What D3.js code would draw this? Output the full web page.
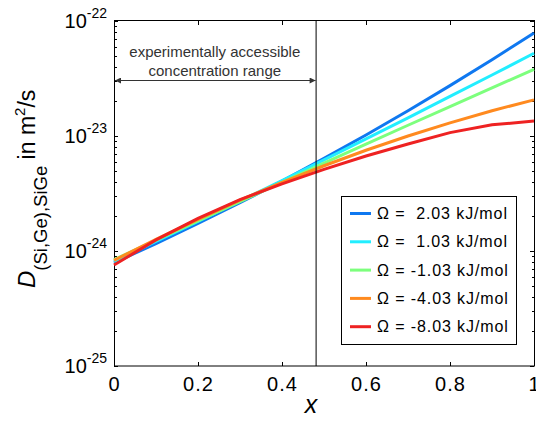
<!DOCTYPE html>
<meta charset="utf-8">
<style>
body { margin: 0; background: #fff; }
svg { font-family: "Liberation Sans", Arial, sans-serif; }
.axis path, .axis line { stroke: #000; shape-rendering: crispEdges; }
</style>
<svg width="536" height="421"></svg>
<script src="https://d3js.org/d3.v7.min.js"></script>
<script>
// concentration x of Ge
var xValues = [0, 0.1, 0.2, 0.3, 0.4, 0.5, 0.6, 0.7, 0.8, 0.9, 1.0]

// D(Si,Ge),SiGe in m^2/s, one list per Omega
var dOmega203 = [7.9e-25, 1.16e-24, 1.74e-24, 2.63e-24, 4.06e-24, 6.38e-24, 1.02e-23, 1.66e-23, 2.74e-23, 4.6e-23, 7.87e-23]
var dOmega103 = [8.1e-25, 1.21e-24, 1.81e-24, 2.72e-24, 4.1e-24, 6.21e-24, 9.44e-24, 1.44e-23, 2.21e-23, 3.39e-23, 5.24e-23]
var dOmegaM103 = [8.4e-25, 1.24e-24, 1.83e-24, 2.69e-24, 3.95e-24, 5.8e-24, 8.49e-24, 1.24e-23, 1.8e-23, 2.62e-23, 3.8e-23]
var dOmegaM403 = [8.3e-25, 1.26e-24, 1.88e-24, 2.77e-24, 3.95e-24, 5.51e-24, 7.52e-24, 1.0e-23, 1.3e-23, 1.66e-23, 2.06e-23]
var dOmegaM803 = [7.55e-25, 1.25e-24, 1.92e-24, 2.8e-24, 3.83e-24, 5.12e-24, 6.7e-24, 8.51e-24, 1.07e-23, 1.25e-23, 1.35e-23]

var seriesLabels = ["\u03A9 =  2.03 kJ/mol", "\u03A9 =  1.03 kJ/mol", "\u03A9 = -1.03 kJ/mol", "\u03A9 = -4.03 kJ/mol", "\u03A9 = -8.03 kJ/mol"]
var seriesColors = ["#0f78f0", "#22eeff", "#7dff7d", "#ff8a1f", "#ee2222"]

var xTicks = [0, 0.2, 0.4, 0.6, 0.8, 1]
var xTickLabels = ["0", "0.2", "0.4", "0.6", "0.8", "1"]
var yDecades = [-25, -24, -23, -22]
var accessibleLimit = 0.48

var series = [dOmega203, dOmega103, dOmegaM103, dOmegaM403, dOmegaM803]

var svg = d3.select('svg')

// plot box ("top" is taken by window.top)
var pLeft = 114, pRight = 534, pTop = 21, pBottom = 366

var x = d3.scaleLinear().domain([0, 1]).range([pLeft, pRight])
var y = d3.scaleLog().domain([1e-25, 1e-22]).range([pBottom, pTop])

// minor ticks for log axis
var yMinor = []
for (var d = -25; d < -22; d++) {
  for (var m = 2; m <= 9; m++) yMinor.push(m * Math.pow(10, d))
}
var yMajor = yDecades.map(function (e) { return Math.pow(10, e) })

// frame
svg.append('rect')
  .attr('x', pLeft + 0.5).attr('y', pTop - 0.5)
  .attr('width', pRight - pLeft).attr('height', pBottom - pTop + 0.5)
  .attr('fill', 'none').attr('stroke', '#000')

// ticks, all pointing inwards
function tickAxis(axis, tr, values, size) {
  svg.append('g').attr('class', 'axis').attr('transform', tr)
    .call(axis.tickValues(values).tickSizeInner(size).tickSizeOuter(0).tickFormat(''))
    .select('.domain').remove()
}
tickAxis(d3.axisBottom(x), 'translate(0,' + pBottom + ')', xTicks.slice(1, -1), -4)
tickAxis(d3.axisTop(x), 'translate(0,' + pTop + ')', xTicks.slice(1, -1), -4)
tickAxis(d3.axisLeft(y), 'translate(' + pLeft + ',0)', yMajor, -4)
tickAxis(d3.axisLeft(y), 'translate(' + pLeft + ',0)', yMinor, -2.5)
tickAxis(d3.axisRight(y), 'translate(' + pRight + ',0)', yMajor, -4)
tickAxis(d3.axisRight(y), 'translate(' + pRight + ',0)', yMinor, -2.5)

// x tick labels
svg.append('g').selectAll('text')
  .data(xTicks).enter().append('text')
  .attr('x', function (t) { return x(t) + 0.5 })
  .attr('y', 391)
  .attr('text-anchor', 'middle')
  .attr('font-size', 20)
  .attr('letter-spacing', 1)
  .text(function (t, i) { return xTickLabels[i] })

// y tick labels 10^n
var yl = svg.append('g').selectAll('text')
  .data(yDecades).enter().append('text')
  .attr('x', 107)
  .attr('y', function (e) { return y(Math.pow(10, e)) + 7 })
  .attr('text-anchor', 'end')
  .attr('font-size', 20)
yl.append('tspan').text('10')
yl.append('tspan').attr('font-size', 14).attr('dy', -10).text(function (e) { return String(e) })

// curves
var line = d3.line()
  .x(function (d, i) { return x(xValues[i]) })
  .y(function (d) { return y(d) })

svg.append('g').selectAll('path')
  .data(series).enter().append('path')
  .attr('d', line)
  .attr('fill', 'none')
  .attr('stroke', function (d, i) { return seriesColors[i] })
  .attr('stroke-width', 3)

// accessible range marker
svg.append('line')
  .attr('x1', x(accessibleLimit) + 0.5).attr('x2', x(accessibleLimit) + 0.5)
  .attr('y1', pTop).attr('y2', pBottom)
  .attr('stroke', '#000')

var defs = svg.append('defs')
defs.append('marker').attr('id', 'arr')
  .attr('viewBox', '0 0 10 10').attr('refX', 10).attr('refY', 5)
  .attr('markerWidth', 8).attr('markerHeight', 6).attr('orient', 'auto-start-reverse')
  .attr('markerUnits', 'userSpaceOnUse')
  .append('path').attr('d', 'M0,0L10,5L0,10z').attr('fill', '#333')

svg.append('line')
  .attr('x1', x(0) + 1).attr('x2', x(accessibleLimit))
  .attr('y1', 80.5).attr('y2', 80.5)
  .attr('stroke', '#333')
  .attr('marker-start', 'url(#arr)').attr('marker-end', 'url(#arr)')

var note = svg.append('text')
  .attr('text-anchor', 'middle').attr('font-size', 15).attr('fill', '#333')
note.append('tspan').attr('x', (x(0) + x(accessibleLimit)) / 2).attr('y', 56.5).text('experimentally accessible')
note.append('tspan').attr('x', (x(0) + x(accessibleLimit)) / 2).attr('y', 75.5).text('concentration range')

// legend
var lg = svg.append('g')
lg.append('rect')
  .attr('x', 341.5).attr('y', 196.5).attr('width', 175).attr('height', 148)
  .attr('fill', '#fff').attr('stroke', '#000')

var items = lg.selectAll('g.item')
  .data(seriesLabels).enter().append('g')
  .attr('transform', function (d, i) { return 'translate(0,' + (213.5 + i * 28.3) + ')' })
items.append('line')
  .attr('x1', 350).attr('x2', 371)
  .attr('stroke', function (d, i) { return seriesColors[i] })
  .attr('stroke-width', 3)
items.append('text')
  .attr('x', 377).attr('y', 5.5)
  .attr('font-size', 16)
  .attr('letter-spacing', 0.9)
  .style('white-space', 'pre')
  .text(function (d) { return d })

// axis titles
svg.append('text')
  .attr('x', 311).attr('y', 413)
  .attr('text-anchor', 'middle')
  .attr('font-size', 25).attr('font-style', 'italic')
  .text('x')

var ylab = svg.append('text')
  .attr('transform', 'translate(35,288) rotate(-90)')
  .attr('font-size', 23)
ylab.append('tspan').attr('font-style', 'italic').attr('font-size', 24).text('D')
ylab.append('tspan').attr('font-size', 18.5).attr('dy', 12).text('(Si,Ge),SiGe')
ylab.append('tspan').attr('dy', -12).text(' in m')
ylab.append('tspan').attr('font-size', 15).attr('dy', -10).text('2')
ylab.append('tspan').attr('dy', 10).text('/s')
</script>
